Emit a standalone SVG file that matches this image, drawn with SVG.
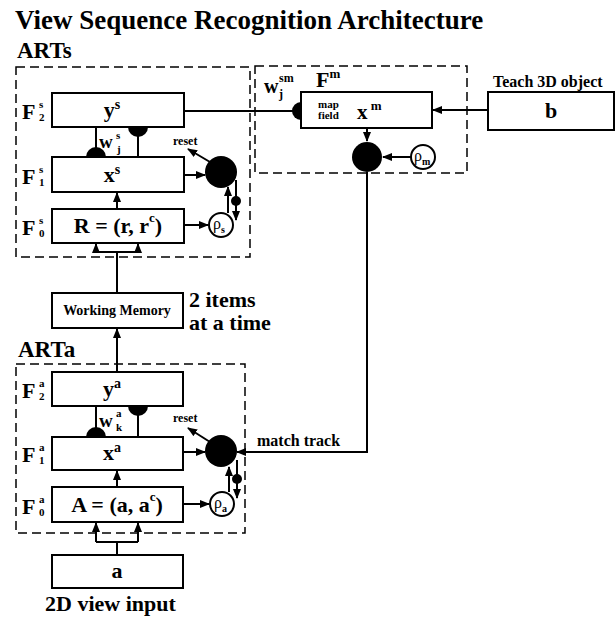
<svg xmlns="http://www.w3.org/2000/svg" width="616" height="617" viewBox="0 0 616 617">
<style>
text{font-family:"Liberation Serif","Times New Roman",serif;font-weight:bold;fill:#000}
.box{fill:#fff;stroke:#000;stroke-width:2}
.dash{fill:none;stroke:#000;stroke-width:1.5;stroke-dasharray:9,5}
.ln{fill:none;stroke:#000;stroke-width:2}
.arr{fill:none;stroke:#000;stroke-width:2;marker-end:url(#ah)}
.dot{fill:#000}
.rho{fill:#fff;stroke:#000;stroke-width:2}
.bt{font-size:22px;text-anchor:middle}
.fl{font-size:22px}
.fs{font-size:11px}
.rt{font-size:16px;font-weight:normal}
.rs{font-size:10px;font-weight:bold}
</style>
<defs>
<marker id="ah" markerUnits="userSpaceOnUse" markerWidth="10" markerHeight="8" refX="9" refY="4" orient="auto">
<path d="M0,0 L10,4 L0,8 z" fill="#000"/>
</marker>
</defs>

<text x="15" y="29" font-size="27">View Sequence Recognition Architecture</text>

<g id="connectors">
<!-- ARTs internal -->
<line class="ln" x1="96" y1="127" x2="96" y2="157"/>
<line class="ln" x1="138" y1="127" x2="138" y2="157"/>
<line class="arr" x1="117" y1="209" x2="117" y2="193"/>
<line class="arr" x1="184" y1="175" x2="205" y2="175"/>
<line class="arr" x1="184" y1="225" x2="208" y2="225"/>
<line class="arr" x1="228" y1="213" x2="228" y2="187"/>
<line class="arr" x1="236" y1="180" x2="236" y2="220"/>
<line class="arr" x1="210" y1="162" x2="188" y2="149"/>
<!-- ARTs inputs from WM -->
<polyline class="ln" points="117,293 117,252"/>
<polyline class="ln" points="96,252 138,252"/>
<line class="arr" x1="96" y1="252" x2="96" y2="244"/>
<line class="arr" x1="138" y1="252" x2="138" y2="244"/>
<!-- ARTa to WM -->
<line class="arr" x1="117" y1="372" x2="117" y2="329"/>
<!-- ARTa internal -->
<line class="ln" x1="96" y1="406" x2="96" y2="437"/>
<line class="ln" x1="138" y1="406" x2="138" y2="437"/>
<line class="arr" x1="117" y1="487" x2="117" y2="471"/>
<line class="arr" x1="183" y1="452" x2="205" y2="452"/>
<line class="arr" x1="183" y1="504" x2="209" y2="504"/>
<line class="arr" x1="229" y1="492" x2="229" y2="467"/>
<line class="arr" x1="237" y1="460" x2="237" y2="498"/>
<line class="arr" x1="210" y1="442" x2="188" y2="428"/>
<!-- ARTa inputs -->
<polyline class="ln" points="117,555 117,542"/>
<polyline class="ln" points="96,542 138,542"/>
<line class="arr" x1="96" y1="542" x2="96" y2="523"/>
<line class="arr" x1="138" y1="542" x2="138" y2="523"/>
<!-- ARTs to map field -->
<line class="ln" x1="184" y1="111" x2="294" y2="111"/>
<!-- b to map field -->
<line class="arr" x1="488" y1="110" x2="433" y2="110"/>
<!-- map field internal -->
<line class="arr" x1="367" y1="128" x2="367" y2="141"/>
<line class="arr" x1="411" y1="157" x2="383" y2="157"/>
<!-- match track -->
<polyline class="ln" points="367,172 367,452 238,452"/>
<line class="arr" x1="250" y1="452" x2="237" y2="452"/>
<!-- small dots on feedback lines -->
<circle class="dot" cx="236" cy="201" r="5"/>
<circle class="dot" cx="237" cy="479" r="5"/>
</g>

<g id="ARTs">
<text x="17" y="58" font-size="23">ARTs</text>
<rect class="dash" x="16" y="67" width="234" height="190"/>
</g>
<g id="F2s">
<rect class="box" x="52" y="93" width="132" height="34"/>
<text x="22" y="119" class="fl">F</text><text x="39" y="108" class="fs">s</text><text x="39" y="121" class="fs">2</text>
<text x="112" y="117" class="bt">y<tspan font-size="14" dy="-8">s</tspan></text>
</g>
<g id="wjs">
<path class="dot" d="M86,157 A10,10 0 0 1 106,157 Z"/>
<path class="dot" d="M128,127 A10,10 0 0 0 148,127 Z"/>
<text x="99" y="148" font-size="19">w</text><text x="116" y="139" font-size="11">s</text><text x="117" y="153" font-size="11">j</text>
</g>
<g id="F1s">
<rect class="box" x="52" y="157" width="132" height="35"/>
<text x="22" y="184" class="fl">F</text><text x="39" y="173" class="fs">s</text><text x="39" y="186" class="fs">1</text>
<text x="112" y="182" class="bt">x<tspan font-size="14" dy="-8">s</tspan></text>
</g>
<g id="F0s">
<rect class="box" x="52" y="209" width="132" height="34"/>
<text x="22" y="235" class="fl">F</text><text x="39" y="224" class="fs">s</text><text x="39" y="237" class="fs">0</text>
<text x="118" y="233" class="bt">R = (r, r<tspan font-size="13" dy="-11">c</tspan><tspan dy="11">)</tspan></text>
</g>
<g id="resetS">
<circle class="dot" cx="221" cy="172" r="16"/>
<text x="173" y="145" font-size="12">reset</text>
</g>
<g id="rhoS">
<circle class="rho" cx="221" cy="225" r="12"/>
<text x="213" y="229" class="rt">ρ<tspan class="rs" dy="4">s</tspan></text>
</g>

<g id="WM">
<rect class="box" x="52" y="293" width="131" height="35"/>
<text x="117" y="315" font-size="14" text-anchor="middle">Working Memory</text>
<text x="189" y="307" font-size="22">2 items</text>
<text x="189" y="330" font-size="22">at a time</text>
</g>

<g id="ARTa">
<text x="18" y="357" font-size="23">ARTa</text>
<rect class="dash" x="16" y="364" width="229" height="169"/>
</g>
<g id="F2a">
<rect class="box" x="52" y="372" width="131" height="34"/>
<text x="22" y="398" class="fl">F</text><text x="39" y="387" class="fs">a</text><text x="39" y="400" class="fs">2</text>
<text x="112" y="396" class="bt">y<tspan font-size="14" dy="-8">a</tspan></text>
</g>
<g id="wka">
<path class="dot" d="M86,437 A10,10 0 0 1 106,437 Z"/>
<path class="dot" d="M128,406 A10,10 0 0 0 148,406 Z"/>
<text x="99" y="427" font-size="19">w</text><text x="116" y="417" font-size="11">a</text><text x="116" y="431" font-size="11">k</text>
</g>
<g id="F1a">
<rect class="box" x="52" y="437" width="131" height="33"/>
<text x="22" y="462" class="fl">F</text><text x="39" y="451" class="fs">a</text><text x="39" y="464" class="fs">1</text>
<text x="112" y="460" class="bt">x<tspan font-size="14" dy="-8">a</tspan></text>
</g>
<g id="F0a">
<rect class="box" x="52" y="487" width="131" height="35"/>
<text x="22" y="514" class="fl">F</text><text x="39" y="503" class="fs">a</text><text x="39" y="516" class="fs">0</text>
<text x="117" y="512" class="bt">A = (a, a<tspan font-size="13" dy="-11">c</tspan><tspan dy="11">)</tspan></text>
</g>
<g id="resetA">
<circle class="dot" cx="221" cy="451" r="16"/>
<text x="173" y="422" font-size="12">reset</text>
</g>
<g id="rhoA">
<circle class="rho" cx="222" cy="504" r="12"/>
<text x="214" y="508" class="rt">ρ<tspan class="rs" dy="4">a</tspan></text>
</g>
<g id="matchtrack">
<text x="257" y="446" font-size="16">match track</text>
</g>

<g id="input_a">
<rect class="box" x="52" y="555" width="131" height="33"/>
<text x="117" y="578" class="bt">a</text>
<text x="45" y="611" font-size="22">2D view input</text>
</g>

<g id="mapfield">
<rect class="dash" x="255" y="66" width="212" height="107"/>
<rect class="box" x="301" y="92" width="131" height="36"/>
<path class="dot" d="M301,102 A9,9 0 0 0 301,120 Z"/>
<text x="264" y="93" font-size="20">w</text><text x="279" y="82" font-size="12">sm</text><text x="279" y="98" font-size="12">j</text>
<text x="316" y="87" font-size="22">F<tspan font-size="13" dy="-9">m</tspan></text>
<text x="318" y="108" font-size="11">map</text>
<text x="318" y="119" font-size="11">field</text>
<text x="357" y="119" font-size="21">x<tspan font-size="13" dy="-9"> m</tspan></text>
</g>
<g id="mapnode">
<circle class="dot" cx="367" cy="157" r="15"/>
</g>
<g id="rhoM">
<circle class="rho" cx="423" cy="157" r="12"/>
<text x="414" y="161" class="rt">ρ<tspan class="rs" dy="4">m</tspan></text>
</g>

<g id="input_b">
<text x="493" y="87" font-size="16">Teach 3D object</text>
<rect class="box" x="488" y="92" width="126" height="38"/>
<text x="551" y="118" class="bt">b</text>
</g>
</svg>
